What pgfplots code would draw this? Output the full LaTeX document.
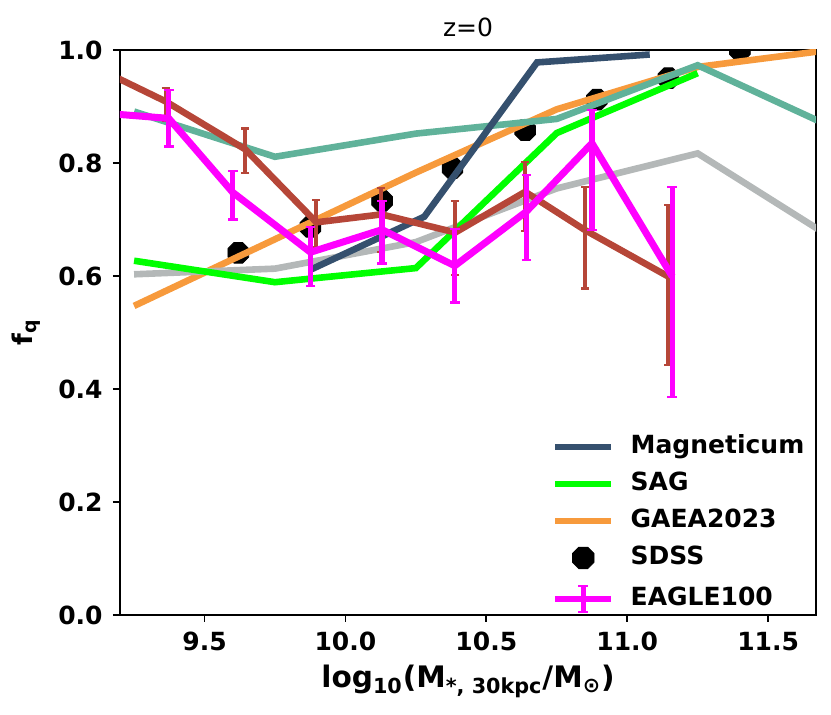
\documentclass[border=0pt]{standalone}
\usepackage{fontspec}
\setmainfont{DejaVu Sans}
\usepackage{pgfplots}
\pgfplotsset{compat=1.18}
\definecolor{magn}{RGB}{53,80,110}
\definecolor{sag}{RGB}{0,255,0}
\definecolor{gaea}{RGB}{247,154,60}
\definecolor{tealc}{RGB}{96,178,154}
\definecolor{grayl}{RGB}{180,184,184}
\definecolor{brownc}{RGB}{182,70,56}
\definecolor{magc}{RGB}{255,0,255}
\pgfdeclareplotmark{octagon}{%
 \pgfpathmoveto{\pgfpointpolar{22.5}{\pgfplotmarksize}}%
 \pgfpathlineto{\pgfpointpolar{67.5}{\pgfplotmarksize}}%
 \pgfpathlineto{\pgfpointpolar{112.5}{\pgfplotmarksize}}%
 \pgfpathlineto{\pgfpointpolar{157.5}{\pgfplotmarksize}}%
 \pgfpathlineto{\pgfpointpolar{202.5}{\pgfplotmarksize}}%
 \pgfpathlineto{\pgfpointpolar{247.5}{\pgfplotmarksize}}%
 \pgfpathlineto{\pgfpointpolar{292.5}{\pgfplotmarksize}}%
 \pgfpathlineto{\pgfpointpolar{337.5}{\pgfplotmarksize}}%
 \pgfpathclose\pgfusepathqfillstroke}
\begin{document}
\begin{tikzpicture}
\path[use as bounding box] (-60pt,-50pt) rectangle (355.5pt,307.5pt);
\begin{axis}[
  at={(0,0)}, anchor=south west,
  scale only axis, width=348pt, height=282.5pt,
  xmin=9.2, xmax=11.67, ymin=0, ymax=1,
  xtick={9.5,10,10.5,11,11.5}, ytick={0,0.2,0.4,0.6,0.8,1.0},
  xtick pos=left, ytick pos=left, tick align=outside,
  major tick length=3.5pt,
  axis line style={line width=0.9pt},
  tick style={line width=0.9pt, black},
  /pgf/number format/assume math mode=true,
  /pgf/number format/fixed, /pgf/number format/fixed zerofill,
  /pgf/number format/precision=1,
  ticklabel style={font=\bfseries\fontsize{12.5}{14}\selectfont},
  xticklabel style={inner sep=0pt, anchor=north, yshift=-5pt},
  yticklabel style={inner sep=0pt, anchor=east, xshift=-5pt},
  xlabel={log\textsubscript{10}(M\textsubscript{*, 30kpc}/M\textsubscript{⊙})},
  xlabel style={at={(axis description cs:0.5,0)}, anchor=north, yshift=-25pt, inner sep=0pt, font=\bfseries\fontsize{14.8}{18}\selectfont},
  ylabel={f\textsubscript{q}},
  ylabel style={at={(axis description cs:0,0.5)}, anchor=center, yshift=47pt, font=\bfseries\fontsize{13.5}{16}\selectfont},
  title={z=0},
  title style={at={(axis description cs:0.5,1)}, anchor=base, yshift=0.5pt, inner sep=0pt, font=\fontsize{12.5}{15}\selectfont},
  clip marker paths=true,
  legend cell align=left,
  legend style={draw=none, fill=none, inner sep=0pt, at={(axis description cs:0.62,0.0)}, anchor=south west,
    font=\bfseries\fontsize{12.5}{15}\selectfont,
    nodes={inner sep=0pt, text height=9pt, text depth=2.5pt}, row sep=7pt,
    /tikz/every odd column/.append style={column sep=8pt}},
]
\addlegendimage{legend image code/.code={\draw[magn, line width=3.2pt] (0pt,0pt) -- (28pt,0pt);}}
\addlegendentry{Magneticum}
\addlegendimage{legend image code/.code={\draw[sag, line width=3.2pt] (0pt,0pt) -- (28pt,0pt);}}
\addlegendentry{SAG}
\addlegendimage{legend image code/.code={\draw[gaea, line width=3.2pt] (0pt,0pt) -- (28pt,0pt);}}
\addlegendentry{GAEA2023}
\addlegendimage{legend image code/.code={\path[draw=none] (0pt,0pt) -- (28pt,0pt);
  \fill[black] (14pt,0pt) +(22.5:5.8pt) -- +(67.5:5.8pt) -- +(112.5:5.8pt) -- +(157.5:5.8pt) -- +(202.5:5.8pt) -- +(247.5:5.8pt) -- +(292.5:5.8pt) -- +(337.5:5.8pt) -- cycle;}}
\addlegendentry{SDSS}
\addlegendimage{legend image code/.code={\draw[magc, line width=3.4pt] (0pt,0pt) -- (28pt,0pt);
  \draw[magc, line width=2.6pt] (14pt,-6.5pt) -- (14pt,6.5pt);
  \draw[magc, line width=1.2pt] (11.5pt,-6.5pt) -- (16.5pt,-6.5pt) (11.5pt,6.5pt) -- (16.5pt,6.5pt);}}
\addlegendentry{EAGLE100}

% SDSS
\addplot[only marks, mark=octagon, mark size=5.6pt, black, forget plot] coordinates {
(9.62,0.641) (9.876,0.687) (10.13,0.733) (10.38,0.791) (10.638,0.858) (10.892,0.912) (11.146,0.950) (11.40,1.000)};
% GAEA2023
\addplot[gaea, line width=3.3pt, forget plot] coordinates {
(9.25,0.547) (9.75,0.665) (10.25,0.783) (10.75,0.895) (11.25,0.970) (11.75,1.002)};
% gray
\addplot[grayl, line width=3.3pt, forget plot] coordinates {
(9.25,0.603) (9.75,0.613) (10.25,0.660) (10.75,0.755) (11.25,0.817) (11.75,0.660)};
% teal
\addplot[tealc, line width=3.3pt, forget plot] coordinates {
(9.25,0.891) (9.75,0.811) (10.25,0.852) (10.75,0.878) (11.25,0.973) (11.75,0.858)};
% Magneticum
\addplot[magn, line width=3.3pt, forget plot] coordinates {
(9.88,0.612) (10.28,0.705) (10.68,0.978) (11.08,0.992)};
% SAG
\addplot[sag, line width=3.3pt, forget plot] coordinates {
(9.25,0.627) (9.75,0.589) (10.25,0.614) (10.75,0.853) (11.25,0.959)};
% brown with errors
\addplot[brownc, line width=3.3pt, forget plot,
  error bars/.cd, y dir=both, y explicit,
  error bar style={line width=2pt},
  error mark options={rotate=90, line width=1.1pt, mark size=2pt}]
  table[x=x, y=y, y error plus=ep, y error minus=em] {
x y ep em
9.11 0.970 0 0
9.362 0.909 0.024 0.035
9.645 0.824 0.037 0.042
9.897 0.695 0.040 0.043
10.128 0.709 0.047 0.066
10.39 0.677 0.056 0.075
10.638 0.749 0.053 0.069
10.851 0.681 0.077 0.103
11.146 0.599 0.127 0.157
};
% EAGLE100
\addplot[magc, line width=3.5pt, forget plot,
  error bars/.cd, y dir=both, y explicit,
  error bar style={line width=2.6pt},
  error mark options={rotate=90, line width=1.2pt, mark size=2.4pt}]
  table[x=x, y=y, y error plus=ep, y error minus=em] {
x y ep em
9.12 0.889 0 0
9.373 0.879 0.050 0.050
9.60 0.748 0.038 0.048
9.876 0.642 0.045 0.060
10.13 0.682 0.051 0.060
10.388 0.618 0.065 0.065
10.642 0.714 0.065 0.086
10.875 0.835 0.059 0.154
11.16 0.599 0.159 0.213
};
\end{axis}
\end{tikzpicture}
\end{document}
